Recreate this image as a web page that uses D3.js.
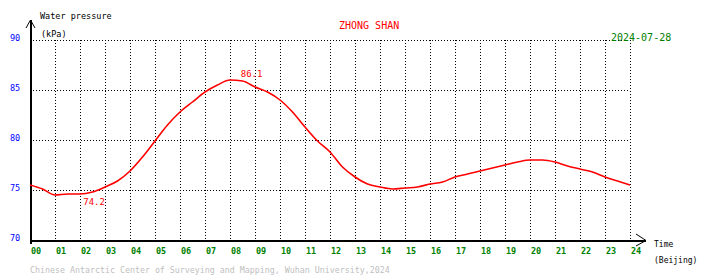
<!DOCTYPE html>
<html>
<head>
<meta charset="utf-8">
<script src="https://cdn.jsdelivr.net/npm/d3@7"></script>
<style>
  html, body { margin: 0; padding: 0; background: #fff; }
  svg { display: block; }
  text { font-family: "DejaVu Sans Mono", "Liberation Mono", monospace; }
</style>
</head>
<body>
<svg id="chart" width="710" height="278"></svg>
<script>
// ---- data ----
const hours = [0,0.5,1,1.5,2,2.5,3,3.5,4,4.5,5,5.5,6,6.5,7,7.5,8,8.5,9,9.5,10,10.5,11,11.5,12,12.5,13,13.5,14,14.5,15,15.5,16,16.5,17,17.5,18,18.5,19,19.5,20,20.5,21,21.5,22,22.5,23,23.5,24];
const pressure = [75.5,75.1,74.5,74.6,74.6,74.8,75.3,75.9,76.9,78.3,79.9,81.5,82.8,83.8,84.8,85.5,86.0,85.9,85.3,84.8,84.0,82.8,81.3,79.9,78.8,77.3,76.3,75.6,75.3,75.1,75.2,75.3,75.6,75.8,76.3,76.6,76.9,77.2,77.5,77.8,78.0,78.0,77.8,77.4,77.1,76.8,76.3,75.9,75.5];
const extremeLabels = [
  {hour: 8.43, value: 86.1, text: "86.1", pos: "above"},
  {hour: 2.13, value: 74.2, text: "74.2", pos: "below"}
];
const yTicks = [70, 75, 80, 85, 90];
const xTicks = d3.range(0, 25);
const xTickLabels = xTicks.map(h => String(h).padStart(2, "0"));
const stationName = "ZHONG SHAN";
const dateLabel = "2024-07-28";
const yTitle = "Water pressure";
const yUnit = "(kPa)";
const xTitle = "Time";
const xUnit = "(Beijing)";
const footer = "Chinese Antarctic Center of Surveying and Mapping, Wuhan University,2024";

// ---- layout ----
const svg = d3.select("#chart");
const pLeft = 30, pRight = 630, pTop = 40, pBottom = 240;
const x = d3.scaleLinear().domain([0, 24]).range([pLeft, pRight]);
const y = d3.scaleLinear().domain([70, 90]).range([pBottom, pTop]);

// grid
const grid = svg.append("g").attr("shape-rendering", "crispEdges")
  .attr("stroke", "#000").attr("stroke-width", 1).attr("stroke-dasharray", "1,2");
grid.selectAll("line.h").data(yTicks.filter(v => v > 70)).join("line")
  .attr("x1", pLeft).attr("x2", pRight)
  .attr("y1", d => Math.round(y(d)) + 0.5).attr("y2", d => Math.round(y(d)) + 0.5);
grid.selectAll("line.v").data(xTicks.filter(h => h > 0)).join("line")
  .attr("x1", d => Math.round(x(d)) + 0.5).attr("x2", d => Math.round(x(d)) + 0.5)
  .attr("y1", pTop).attr("y2", pBottom);

// axes
const ax = svg.append("g").attr("stroke", "#000").attr("fill", "none");
ax.append("line").attr("x1", pLeft + 0.5).attr("x2", pLeft + 0.5).attr("y1", 20).attr("y2", 244)
  .attr("stroke-width", 2).attr("shape-rendering", "crispEdges");
ax.append("line").attr("x1", pLeft).attr("x2", 646).attr("y1", pBottom + 0.5).attr("y2", pBottom + 0.5)
  .attr("stroke-width", 2).attr("shape-rendering", "crispEdges");
ax.append("path").attr("d", "M26,28 L30.5,20 L35,28").attr("stroke-width", 1);
ax.append("path").attr("d", "M636,234 L646,240.5 L636,246").attr("stroke-width", 1);

// y tick labels
svg.append("g").selectAll("text").data(yTicks).join("text")
  .attr("x", 10).attr("y", d => y(d) + 1)
  .attr("fill", "#0000ff").attr("font-size", "8.5px").text(d => d);

// x tick labels
svg.append("g").selectAll("text").data(xTicks).join("text")
  .attr("x", d => x(d) + 1).attr("y", 254)
  .attr("fill", "#008000").attr("font-size", "8.5px").attr("font-weight", "bold")
  .text((d, i) => xTickLabels[i]);

// titles
svg.append("text").attr("x", 40).attr("y", 19).attr("font-size", "8.5px").attr("fill", "#000").text(yTitle);
svg.append("text").attr("x", 41).attr("y", 36.5).attr("font-size", "8.5px").attr("fill", "#000").text(yUnit);
svg.append("text").attr("x", 339).attr("y", 29).attr("font-size", "10px").attr("fill", "#ff0000").text(stationName);
svg.append("text").attr("x", 611).attr("y", 41).attr("font-size", "10px").attr("fill", "#008000").text(dateLabel);
svg.append("text").attr("x", 654).attr("y", 246.5).attr("font-size", "8px").attr("fill", "#000").text(xTitle);
svg.append("text").attr("x", 654).attr("y", 262.5).attr("font-size", "8px").attr("fill", "#000").text(xUnit);
svg.append("text").attr("x", 30).attr("y", 273).attr("font-size", "8.3px").attr("fill", "#c0c0c0").text(footer);

// data line
const line = d3.line().x((d, i) => x(hours[i])).y(d => y(d)).curve(d3.curveMonotoneX);
svg.append("path").datum(pressure).attr("d", line)
  .attr("fill", "none").attr("stroke", "#ff0000").attr("stroke-width", 1.6);

// extreme labels
svg.append("g").selectAll("text").data(extremeLabels).join("text")
  .attr("x", d => x(d.hour))
  .attr("y", d => d.pos === "above" ? y(d.value) - 2 : y(d.value) + 7)
  .attr("fill", "#ff0000").attr("font-size", "9px").text(d => d.text);
</script>
</body>
</html>
